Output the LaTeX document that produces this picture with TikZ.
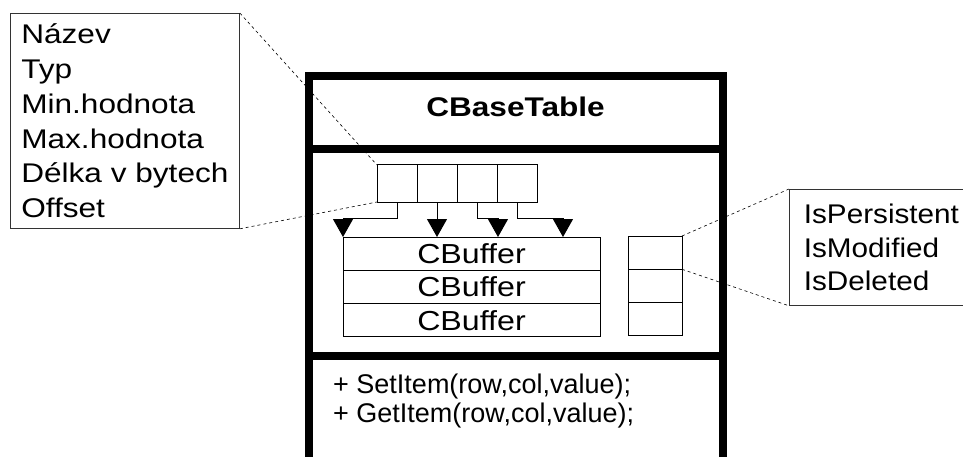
\documentclass[tikz,border=0pt]{standalone}
\usepackage{fontspec}
\setmainfont{Liberation Sans}
\newfontfamily\notefont{Liberation Sans}[FakeStretch=1.17]
\newfontfamily\flagfont{Liberation Sans}[FakeStretch=1.1]
\usetikzlibrary{calc}
\usetikzlibrary{shapes,arrows.meta}

\begin{document}
\begin{tikzpicture}[x=1pt,y=-1pt]

 \tikzset{
    cell/.style={
      rectangle,
      minimum width=40pt,
      minimum height=37pt,
      inner sep=0pt,
      outer sep=0pt,
      line width=1pt,
    draw
    },
    bufbox/.style={
      cell,
      minimum width=257pt,
      minimum height=33.3pt,
      font=\notefont\fontsize{27.5}{30}\selectfont
    },
    flag/.style={
      cell,
      minimum width=54pt,
      minimum height=33.3pt
    },
    note/.style={
      rectangle,
      draw=black!80,
      line width=0.8pt,
      inner sep=0pt,
      align=left,
      anchor=north west,
      font=\notefont\fontsize{27}{34.8}\selectfont
    },
    method/.style={
      anchor=base west,
      inner sep=0pt,
      font=\fontsize{27}{29}\selectfont
    },
    wall/.style={line width=8pt, line join=miter},
    flow/.style={-{Triangle[width=20pt,length=18pt]}, line width=1pt},
    leader/.style={dash pattern=on 3pt off 3pt, line width=0.6pt}
  }

\useasboundingbox (0,0) rectangle (963,457);
\clip (0,0) rectangle (963,457);

\draw[wall] (308.5,470) -- (308.5,76) -- (722.5,76) -- (722.5,470);
\draw[wall] (308.5,149) -- (722.5,149);
\draw[wall] (308.5,356) -- (722.5,356);

\node[font=\notefont\bfseries\fontsize{27}{30}\selectfont, inner sep=0pt] (title) at (515.5,107) {CBaseTable};

\foreach \i in {1,...,4}
    \node[cell] (c\i) at (357+40*\i,183.5) {};

\foreach \i in {1,2,3} {
    \node[bufbox] (b\i) at (471.5,220.35+33.3*\i) {CBuffer};
    \node[flag] (f\i) at (655,219.35+33.3*\i) {};
}

\coordinate (t1) at (b1.north west);
\coordinate (t2) at (437,237);
\coordinate (t3) at (498,237);
\coordinate (t4) at (563,237);

\draw[flow] (c1.south) -- ++(0,16) -| (t1);
\draw[flow] (c2.south) -- (t2);
\draw[flow] (c3.south) -- ++(0,16) -| (t3);
\draw[flow] (c4.south) -- ++(0,16) -| (t4);

\node[note, minimum width=229pt, minimum height=215pt] (attr) at (10,13)
    {Název\\Typ\\Min.hodnota\\Max.hodnota\\Délka v bytech\\Offset};
\node[note, font=\flagfont\fontsize{27}{33.5}\selectfont,
      minimum width=184pt, minimum height=116pt] (state) at (789,189)
    {IsPersistent\\IsModified\\IsDeleted};

\draw[leader] (attr.north east) -- (c1.north west);
\draw[leader] (attr.south east) -- (c1.south west);
\draw[leader] (f1.north east) -- (state.north west);
\draw[leader] (f1.south east) -- (state.south west);

\node[method] (set) at (333,393) {+ SetItem(row,col,value);};
\node[method] (get) at (333,422) {+ GetItem(row,col,value);};
\end{tikzpicture}
\end{document}
